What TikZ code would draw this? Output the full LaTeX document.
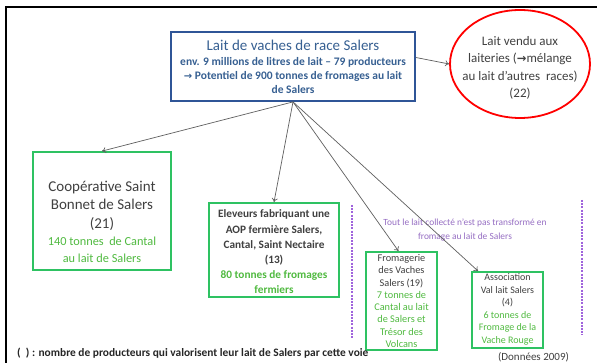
\documentclass[tikz,border=0pt]{standalone}
\usepackage{fontspec}
\setmainfont{Carlito}
\newfontfamily\symf{DejaVu Sans}
\usetikzlibrary{arrows.meta,shapes.geometric}
\definecolor{bbord}{RGB}{47,85,151}
\definecolor{btext}{RGB}{55,96,146}
\definecolor{gbord}{RGB}{46,194,98}
\definecolor{gtext}{RGB}{80,186,64}
\definecolor{dtext}{RGB}{64,64,64}
\definecolor{ptext}{RGB}{150,110,195}
\definecolor{pline}{RGB}{160,100,220}
\definecolor{agray}{RGB}{95,95,95}
\tikzset{
  bluebox/.style={draw=bbord, line width=1.8pt, inner sep=0pt},
  greenbox/.style={draw=gbord, line width=1.8pt, inner sep=0pt},
  txt/.style={inner sep=0pt, align=center, text=dtext},
  arr/.style={draw=agray, line width=0.7pt, -{To[length=4pt,width=6pt]}},
  pdash/.style={draw=pline, line width=1.4pt, dash pattern=on 2pt off 1.2pt},
}
\begin{document}
\begin{tikzpicture}[x=1pt,y=-1pt]
\useasboundingbox (0,0) rectangle (597,363);
\fill[white] (0,0) rectangle (597,363);
% frame
\draw[line width=2pt] (6,364) -- (6,7) -- (598,7);
% top blue box
\node[bluebox, minimum width=244pt, minimum height=69pt] (blue) at (293,66.5) {};
\node[txt, text=btext, font=\fontsize{15}{16}\selectfont] (bluet) at (293,45) {Lait de vaches de race Salers};
\node[txt, text=btext, font=\bfseries\fontsize{11.5}{14}\selectfont] (blues) at (293,76)
  {env. 9 millions de litres de lait -- 79 producteurs\\
   {\symf\fontsize{10}{14}\selectfont →} Potentiel de 900 tonnes de fromages au lait\\
   de Salers};
% red ellipse
\node[ellipse, draw=red, line width=1.8pt, minimum width=140pt, minimum height=108pt, inner sep=0pt] (ell) at (520,64) {};
\node[txt, font=\fontsize{13}{17.5}\selectfont] (ellt) at (520,68)
  {Lait vendu aux\\ laiteries ({\symf\bfseries\fontsize{11.5}{17.5}\selectfont →}mélange\\ au lait d'autres~ races)\\ (22)};
% cooperative
\node[greenbox, minimum width=138pt, minimum height=118pt] (coop) at (102,211) {};
\node[txt, font=\fontsize{15}{18.5}\selectfont] (coopt) at (102,205.5)
  {Coopérative Saint\\ Bonnet de Salers\\ (21)};
\node[txt, text=gtext, font=\fontsize{12.3}{17}\selectfont] (coopg) at (102,249.5)
  {140 tonnes~ de Cantal\\ au lait de Salers};
% eleveurs
\node[greenbox, minimum width=130pt, minimum height=94pt] (elev) at (274,250) {};
\node[txt, font=\bfseries\fontsize{11.3}{15.2}\selectfont] (elevt) at (274,252)
  {Eleveurs fabriquant une\\ AOP fermière Salers,\\ Cantal, Saint Nectaire\\ (13)\\
   \textcolor{gtext}{80 tonnes de fromages}\\ \textcolor{gtext}{fermiers}};
% dashed purple lines
\coordinate (dl1) at (352,205);
\coordinate (dl2) at (352,338);
\coordinate (dr1) at (582,200);
\coordinate (dr2) at (582,335);
\draw[pdash] (dl1) -- (dl2);
\draw[pdash] (dr1) -- (dr2);
\node[txt, text=ptext, font=\fontsize{9.4}{14}\selectfont] (purp) at (465,230)
  {Tout le lait collecté n'est pas transformé en\\ fromage au lait de Salers};
% fromagerie
\node[greenbox, minimum width=71pt, minimum height=98pt] (from) at (401.5,301) {};
\node[txt, font=\fontsize{10.3}{12.3}\selectfont] (fromt) at (401.5,301)
  {Fromagerie\\ des Vaches\\ Salers (19)\\ \textcolor{gtext}{7 tonnes de}\\
   \textcolor{gtext}{Cantal au lait}\\ \textcolor{gtext}{de Salers et}\\
   \textcolor{gtext}{Trésor des}\\ \textcolor{gtext}{Volcans}};
% association
\node[greenbox, minimum width=71pt, minimum height=76pt] (assoc) at (507.5,310) {};
\node[txt, font=\fontsize{10}{12.6}\selectfont] (assoct) at (507.5,309.5)
  {Association\\ Val lait Salers\\ (4)\\ \textcolor{gtext}{6 tonnes de}\\
   \textcolor{gtext}{Fromage de la}\\ \textcolor{gtext}{Vache Rouge}};
% arrows
\draw[arr] ([yshift=9pt]blue.east) -- (ell.west);
\draw[arr] (blue.south) -- (coop.north);
\draw[arr] (blue.south) -- (elev.north);
\draw[arr] (blue.south) -- ([xshift=-3pt]from.north);
\draw[arr] (blue.south) -- ([xshift=7pt]assoc.north west);
% footer
\node[txt, anchor=west, text=black!85, font=\bfseries\fontsize{11.4}{12}\selectfont] (foot) at (17,353)
  {(~~) : nombre de producteurs qui valorisent leur lait de Salers par cette voie};
\node[txt, text=black!75, font=\fontsize{11}{12}\selectfont] (donn) at (533.5,357) {(Données 2009)};
\end{tikzpicture}
\end{document}
